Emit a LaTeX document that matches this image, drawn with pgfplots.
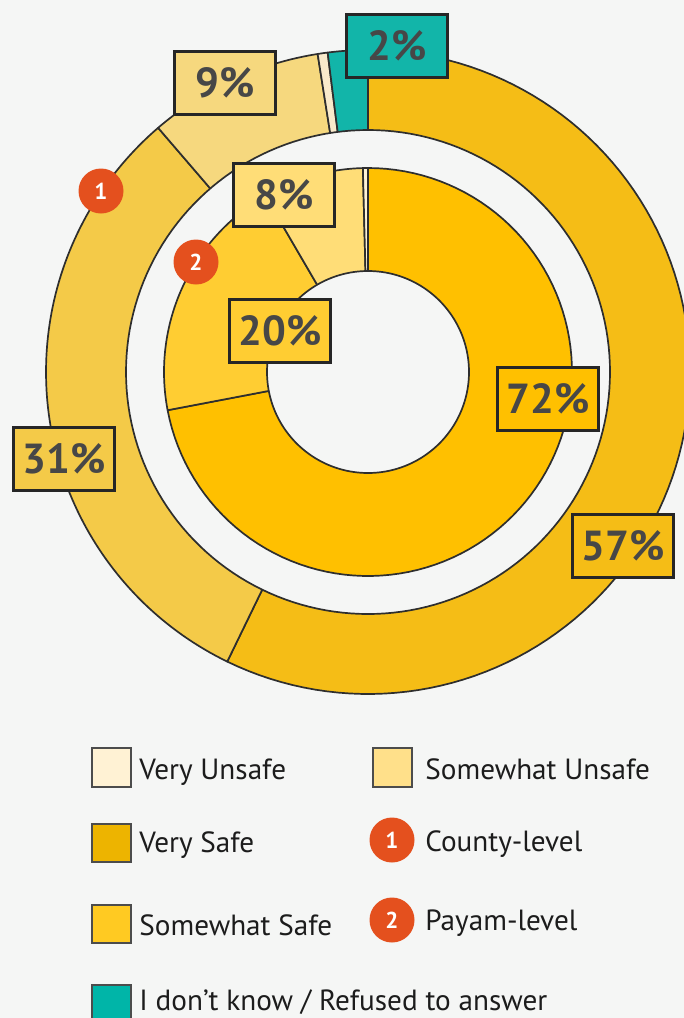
\documentclass[border=0pt]{standalone}
\usepackage{pgfplots}
\pgfplotsset{compat=1.18}
\usepackage{fontspec}
\setmainfont{PT Sans}
\definecolor{bg}{HTML}{F5F6F5}
\definecolor{edge}{HTML}{2E2E2E}
\definecolor{ovs}{HTML}{F5BD16}
\definecolor{oss}{HTML}{F4CA48}
\definecolor{osu}{HTML}{F6D87E}
\definecolor{ovu}{HTML}{F9EACB}
\definecolor{odk}{HTML}{12B5A9}
\definecolor{ivs}{HTML}{FFC000}
\definecolor{iss}{HTML}{FFCD32}
\definecolor{isu}{HTML}{FFDD77}
\definecolor{ivu}{HTML}{FFF2D4}
\definecolor{lvu}{HTML}{FFF2D4}
\definecolor{lsu}{HTML}{FFE08A}
\definecolor{lvs}{HTML}{EDB400}
\definecolor{lss}{HTML}{FFCA22}
\definecolor{ldk}{HTML}{00B5A8}
\definecolor{badge}{HTML}{E4501E}
\definecolor{lbl}{HTML}{474747}
\definecolor{txt}{HTML}{1C1C1C}
% wedge: radius, start %, end %, colour  (centre 368,372 in pixel units)
\newcommand{\ringwedge}[4]{%
  \addplot[fill=#4, draw=edge, line width=0.85pt, line join=round,
    variable=\t, samples at={-1,0,1,...,100,101}]
    ({ifthenelse(abs(\t-50)>50, 368, 368+#1*sin(3.6*(#2+(#3-#2)*\t/100)))},
     {ifthenelse(abs(\t-50)>50, 372, 372-#1*cos(3.6*(#2+(#3-#2)*\t/100)))});}
\newcommand{\ringdisk}[1]{%
  \addplot[fill=bg, draw=edge, line width=0.85pt, variable=\t, domain=0:360, samples=181]
    ({368+#1*sin(\t)},{372-#1*cos(\t)});}
\tikzset{pct/.style={draw=black!85, line width=1.5pt, inner sep=0pt,
    minimum width=50.5pt, minimum height=31.5pt, text=lbl,
    font=\bfseries\fontsize{21}{21}\selectfont},
  bdg/.style={circle, fill=badge, inner sep=0pt, minimum size=22.5pt, text=white,
    font=\bfseries\fontsize{11.5}{11.5}\selectfont},
  sq/.style={draw=black!70, line width=0.6pt},
  lt/.style={anchor=base west, inner sep=0pt, text=txt, font=\fontsize{14.6}{14.6}\selectfont}}
\begin{document}
\begin{tikzpicture}
\fill[bg] (0,0) rectangle (342pt,509pt);
\begin{axis}[scale only axis, width=342pt, height=509pt, hide axis,
  xmin=0, xmax=684, ymin=0, ymax=1018, y dir=reverse, clip=false]
% outer ring: county-level
\ringwedge{322}{0}{57.2}{ovs}
\ringwedge{322}{57.2}{88.7}{oss}
\ringwedge{322}{88.7}{97.5}{osu}
\ringwedge{322}{97.5}{98.0}{ovu}
\ringwedge{322}{98.0}{100}{odk}
\ringdisk{242}
% inner ring: payam-level
\ringwedge{204}{0}{72.0}{ivs}
\ringwedge{204}{72.0}{91.6}{iss}
\ringwedge{204}{91.6}{99.6}{isu}
\ringwedge{204}{99.6}{100}{ivu}
\ringdisk{101}
% labels
\node[pct, fill=odk] at (axis cs:397,46) {2\%};
\node[pct, fill=osu] at (axis cs:225,83) {9\%};
\node[pct, fill=isu] at (axis cs:284,195) {8\%};
\node[pct, fill=iss] at (axis cs:280,331) {20\%};
\node[pct, fill=ivs] at (axis cs:548,399) {72\%};
\node[pct, fill=oss] at (axis cs:64,459) {31\%};
\node[pct, fill=ovs] at (axis cs:623,546) {57\%};
\node[bdg] at (axis cs:101,191) {1};
\node[bdg] at (axis cs:196,262) {2};
% legend
\draw[sq, fill=lvu] (axis cs:92,748) rectangle (axis cs:131,787);
\node[lt] at (axis cs:139,779) {Very Unsafe};
\draw[sq, fill=lsu] (axis cs:373,748) rectangle (axis cs:412,787);
\node[lt] at (axis cs:425,779) {Somewhat Unsafe};
\draw[sq, fill=lvs] (axis cs:92,824) rectangle (axis cs:131,862);
\node[lt] at (axis cs:139,852) {Very Safe};
\node[bdg] at (axis cs:392,840) {1};
\node[lt] at (axis cs:425,851) {County-level};
\draw[sq, fill=lss] (axis cs:92,905) rectangle (axis cs:131,943);
\node[lt] at (axis cs:139,935) {Somewhat Safe};
\node[bdg] at (axis cs:392,920) {2};
\node[lt] at (axis cs:425,930) {Payam-level};
\draw[sq, fill=ldk] (axis cs:92,985) rectangle (axis cs:131,1024);
\node[lt] at (axis cs:139,1010) {I don’t know / Refused to answer};
\end{axis}
\pgfresetboundingbox
\path[use as bounding box] (0,0) rectangle (342pt,509pt);
\end{tikzpicture}
\end{document}
